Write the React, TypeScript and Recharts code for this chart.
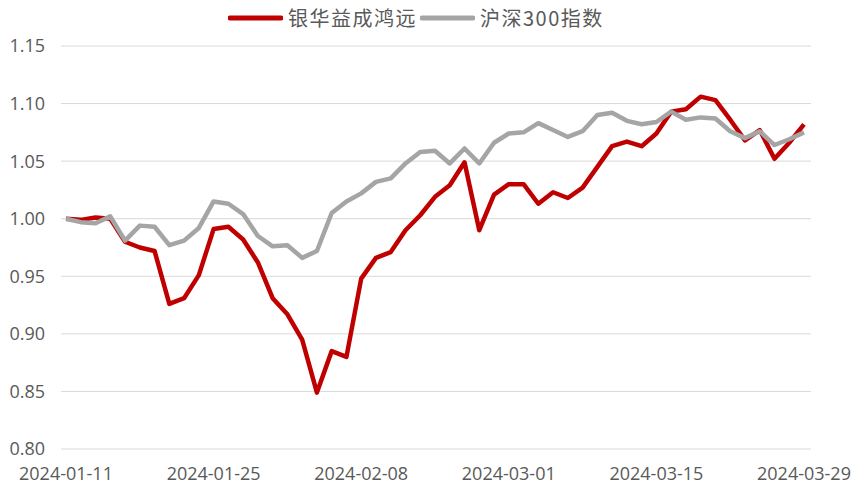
import { LineChart, Line, XAxis, YAxis, CartesianGrid, Legend } from "recharts";

const dates = [
    "2024-01-11", "2024-01-12", "2024-01-15", "2024-01-16", "2024-01-17", "2024-01-18", "2024-01-19",
    "2024-01-22", "2024-01-23", "2024-01-24", "2024-01-25", "2024-01-26", "2024-01-29", "2024-01-30",
    "2024-01-31", "2024-02-01", "2024-02-02", "2024-02-05", "2024-02-06", "2024-02-07", "2024-02-08",
    "2024-02-19", "2024-02-20", "2024-02-21", "2024-02-22", "2024-02-23", "2024-02-26", "2024-02-27",
    "2024-02-28", "2024-02-29", "2024-03-01", "2024-03-04", "2024-03-05", "2024-03-06", "2024-03-07",
    "2024-03-08", "2024-03-11", "2024-03-12", "2024-03-13", "2024-03-14", "2024-03-15", "2024-03-18",
    "2024-03-19", "2024-03-20", "2024-03-21", "2024-03-22", "2024-03-25", "2024-03-26", "2024-03-27",
    "2024-03-28", "2024-03-29",
];

const yinhua = [
    1.000, 0.999, 1.001, 1.000, 0.980, 0.975, 0.972, 0.926, 0.931, 0.951,
    0.991, 0.993, 0.982, 0.962, 0.931, 0.917, 0.895, 0.849, 0.885, 0.880,
    0.948, 0.966, 0.971, 0.990, 1.003, 1.019, 1.029, 1.049, 0.990, 1.021,
    1.030, 1.030, 1.013, 1.023, 1.018, 1.027, 1.045, 1.063, 1.067, 1.063,
    1.074, 1.093, 1.095, 1.106, 1.103, 1.086, 1.068, 1.077, 1.052, 1.066,
    1.082,
];

const hs300 = [
    1.000, 0.997, 0.996, 1.002, 0.981, 0.994, 0.993, 0.977, 0.981, 0.992,
    1.015, 1.013, 1.004, 0.985, 0.976, 0.977, 0.966, 0.972, 1.005, 1.015,
    1.022, 1.032, 1.035, 1.048, 1.058, 1.059, 1.048, 1.061, 1.048, 1.066,
    1.074, 1.075, 1.083, 1.077, 1.071, 1.076, 1.090, 1.092, 1.085, 1.082,
    1.084, 1.093, 1.086, 1.088, 1.087, 1.076, 1.070, 1.076, 1.064, 1.069,
    1.075,
];

const xTicks = ["2024-01-11", "2024-01-25", "2024-02-08", "2024-03-01", "2024-03-15", "2024-03-29"];
const yTicks = [0.8, 0.85, 0.9, 0.95, 1.0, 1.05, 1.1, 1.15];

const seriesNames = ["银华益成鸿远", "沪深300指数"];
const seriesColors = ["#C00000", "#A5A5A5"];

const data = dates.map((d, i) => ({ date: d, yinhua: yinhua[i], hs300: hs300[i] }));

const tickFont = { fontSize: 18, fill: "#595959", fontFamily: "'Open Sans', sans-serif" };

function renderLegend() {
    return (
        <div style={{ display: "flex", alignItems: "center", paddingLeft: 228, fontFamily: "'Noto Sans CJK SC', sans-serif", fontSize: 20, letterSpacing: 1.5, color: "#595959" }}>
            {seriesNames.map((name, i) => (
                <div key={name} style={{ display: "flex", alignItems: "center", marginRight: i === 0 ? 3 : 0 }}>
                    <svg width={55} height={10} style={{ marginRight: 5 }}>
                        <line x1={2} y1={5} x2={53} y2={5} stroke={seriesColors[i]} strokeWidth={5} strokeLinecap="round" />
                    </svg>
                    <span>{name}</span>
                </div>
            ))}
        </div>
    );
}

export default function App() {
    return (
        <div style={{ position: "absolute", left: 0, top: 0, background: "#fff" }}>
            <LineChart width={864} height={485} data={data} margin={{ top: 46, right: 53, bottom: 0, left: 0 }}>
                <CartesianGrid vertical={false} stroke="#D9D9D9" strokeWidth={1} />
                <XAxis
                    dataKey="date"
                    ticks={xTicks}
                    interval={0}
                    axisLine={false}
                    tickLine={false}
                    height={36}
                    tickMargin={12}
                    padding={{ left: 5, right: 7 }}
                    tick={tickFont}
                />
                <YAxis
                    domain={[0.8, 1.15]}
                    ticks={yTicks}
                    width={61}
                    axisLine={false}
                    tickLine={false}
                    tickMargin={10}
                    tickFormatter={(v) => v.toFixed(2)}
                    tick={tickFont}
                />
                <Legend
                    verticalAlign="middle"
                    content={renderLegend}
                    wrapperStyle={{ top: 3, left: 0, width: 864 }}
                />
                <Line
                    type="linear"
                    dataKey="yinhua"
                    name={seriesNames[0]}
                    stroke={seriesColors[0]}
                    strokeWidth={4.5}
                    strokeLinejoin="round"
                    dot={false}
                    isAnimationActive={false}
                />
                <Line
                    type="linear"
                    dataKey="hs300"
                    name={seriesNames[1]}
                    stroke={seriesColors[1]}
                    strokeWidth={4.5}
                    strokeLinejoin="round"
                    dot={false}
                    isAnimationActive={false}
                />
            </LineChart>
        </div>
    );
}
